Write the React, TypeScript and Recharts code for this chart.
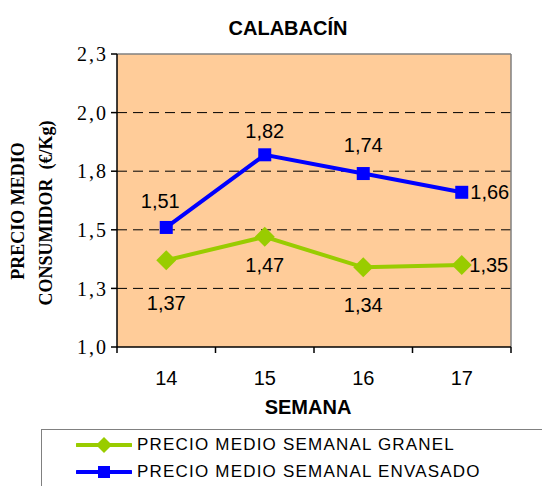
import React from 'react';
import { LineChart, Line, XAxis, YAxis, CartesianGrid, ReferenceLine, LabelList } from 'recharts';

const semanas = [14, 15, 16, 17];
const granel = [1.37, 1.47, 1.34, 1.35];
const envasado = [1.51, 1.82, 1.74, 1.66];
const yTicks = [1.0, 1.25, 1.5, 1.75, 2.0, 2.25];
const yTickLabels = ['1,0', '1,3', '1,5', '1,8', '2,0', '2,3'];
const xTicks = [13.5, 14, 14.5, 15, 15.5, 16, 16.5, 17, 17.5];

const datos = semanas.map((s, i) => ({ semana: s, granel: granel[i], envasado: envasado[i] }));

const VERDE = '#99CC00';
const AZUL = '#0000FF';
const FONDO = '#FFCC99';
const SANS = '"Liberation Sans", Arial, sans-serif';
const SERIF = '"Liberation Serif", "Times New Roman", serif';

// desplazamiento de cada etiqueta respecto a su punto
const posGranel = [[0, 43], [0, 28], [0, 37], [27, 0]];
const posEnvasado = [[-6, -27], [0, -24], [0, -29], [28, 0]];

const fmt = (v: number) => v.toFixed(2).replace('.', ',');

const etiqueta = (serie: number[], pos: number[][]) => (props: any) => {
  const x = props.x ?? props.viewBox?.x;
  const y = props.y ?? props.viewBox?.y;
  const i = props.index ?? serie.indexOf(props.value);
  const [dx, dy] = pos[i] || [0, 0];
  return (
    <text x={x + dx} y={y + dy} dy="0.36em" textAnchor="middle" fontSize={20} fontFamily={SANS} fill="#000">
      {fmt(Number(props.value))}
    </text>
  );
};

const Rombo = (p: any) => {
  const { cx, cy } = p;
  if (cx == null || cy == null) return <g key={p.index} />;
  const r = 10;
  return <polygon key={p.index} points={`${cx},${cy - r} ${cx + r},${cy} ${cx},${cy + r} ${cx - r},${cy}`} fill={VERDE} />;
};

const Cuadro = (p: any) => {
  const { cx, cy } = p;
  if (cx == null || cy == null) return <g key={p.index} />;
  return <rect key={p.index} x={cx - 6.5} y={cy - 6.5} width={13} height={13} fill={AZUL} />;
};

const TickSemana = (props: any) => {
  const { x, y, payload } = props;
  const v = payload.value;
  if (Number.isInteger(v)) {
    return (
      <text x={x} y={y + 38} textAnchor="middle" fontSize={20} fontFamily={SANS} fill="#000">
        {v}
      </text>
    );
  }
  return <line x1={x} x2={x} y1={y} y2={y + 6} stroke="#000" strokeWidth={1.5} />;
};

const TickPrecio = (props: any) => {
  const { x, y, payload } = props;
  const txt = yTickLabels[yTicks.indexOf(payload.value)] ?? '';
  return (
    <text
      x={x}
      y={y}
      dy="0.36em"
      textAnchor="end"
      style={{ fontFamily: SERIF, fontSize: 20, letterSpacing: 2 }}
      fill="#000"
    >
      {txt}
    </text>
  );
};

const EtiquetaY = () => (
  <g style={{ fontFamily: SERIF, fontWeight: 'bold', fontSize: 18 }} fill="#000" textAnchor="middle">
    <text x={18} y={211} dy="0.35em" transform="rotate(-90 18 211)">PRECIO MEDIO</text>
    <text x={46} y={213} dy="0.35em" transform="rotate(-90 46 213)">{'CONSUMIDOR\u00a0\u00a0(€/Kg)'}</text>
  </g>
);

const EtiquetaX = () => (
  <text x={308} y={414} textAnchor="middle" style={{ fontFamily: SANS, fontWeight: 'bold', fontSize: 20 }} fill="#000">
    SEMANA
  </text>
);

const LegendItem = ({ color, square, text }: { color: string; square?: boolean; text: string }) => (
  <div style={{ position: 'relative', height: 27, display: 'flex', alignItems: 'center' }}>
    <svg width={56} height={20} style={{ marginLeft: 34 }}>
      <line x1={1} x2={55} y1={10} y2={10} stroke={color} strokeWidth={4} strokeLinecap="round" />
      {square ? (
        <rect x={22} y={4} width={12} height={12} fill={color} />
      ) : (
        <polygon points="28,2 36,10 28,18 20,10" fill={color} />
      )}
    </svg>
    <span style={{ marginLeft: 5, fontFamily: SANS, fontSize: 17, letterSpacing: 1.2, color: '#000', whiteSpace: 'nowrap' }}>
      {text}
    </span>
  </div>
);

export default function App() {
  return (
    <div style={{ position: 'absolute', left: 0, top: 0, width: 542, height: 486, overflow: 'hidden', background: '#fff' }}>
      <div
        style={{
          position: 'absolute', left: 188, top: 17, width: 200, textAlign: 'center',
          fontFamily: SANS, fontWeight: 'bold', fontSize: 20, lineHeight: '22px', color: '#000',
        }}
      >
        CALABACÍN
      </div>
      <LineChart width={542} height={486} data={datos} margin={{ top: 54, right: 31, left: 0, bottom: 64 }}>
        <CartesianGrid
          horizontal
          vertical={false}
          horizontalValues={[1.25, 1.5, 1.75, 2.0]}
          stroke="#000"
          strokeDasharray="10 6"
          fill={FONDO}
          fillOpacity={1}
        />
        <XAxis
          dataKey="semana"
          type="number"
          domain={[13.5, 17.5]}
          ticks={xTicks}
          interval={0}
          allowDataOverflow
          tickLine={false}
          tickSize={0}
          tickMargin={0}
          tick={<TickSemana />}
          axisLine={{ stroke: '#000', strokeWidth: 1.5 }}
          height={75}
          label={<EtiquetaX />}
        />
        <YAxis
          type="number"
          domain={[1, 2.25]}
          ticks={yTicks}
          interval={0}
          allowDataOverflow
          width={117}
          tickSize={6}
          tickMargin={3}
          tick={<TickPrecio />}
          tickLine={{ stroke: '#000', strokeWidth: 1.5 }}
          axisLine={{ stroke: '#000', strokeWidth: 1.5 }}
          label={<EtiquetaY />}
        />
        <ReferenceLine y={2.25} stroke="#808080" strokeWidth={1.5} />
        <ReferenceLine x={17.5} stroke="#808080" strokeWidth={1.5} />
        <Line
          dataKey="granel"
          stroke={VERDE}
          strokeWidth={4}
          dot={Rombo}
          activeDot={false}
          isAnimationActive={false}
        >
          <LabelList dataKey="granel" content={etiqueta(granel, posGranel)} />
        </Line>
        <Line
          dataKey="envasado"
          stroke={AZUL}
          strokeWidth={4}
          dot={Cuadro}
          activeDot={false}
          isAnimationActive={false}
        >
          <LabelList dataKey="envasado" content={etiqueta(envasado, posEnvasado)} />
        </Line>
      </LineChart>
      <div
        style={{
          position: 'absolute', left: 41, top: 429, width: 560, height: 80,
          border: '1px solid #808080', background: '#fff', paddingTop: 1, boxSizing: 'border-box',
        }}
      >
        <LegendItem color={VERDE} text="PRECIO MEDIO SEMANAL GRANEL" />
        <LegendItem color={AZUL} square text="PRECIO MEDIO SEMANAL ENVASADO" />
      </div>
    </div>
  );
}
